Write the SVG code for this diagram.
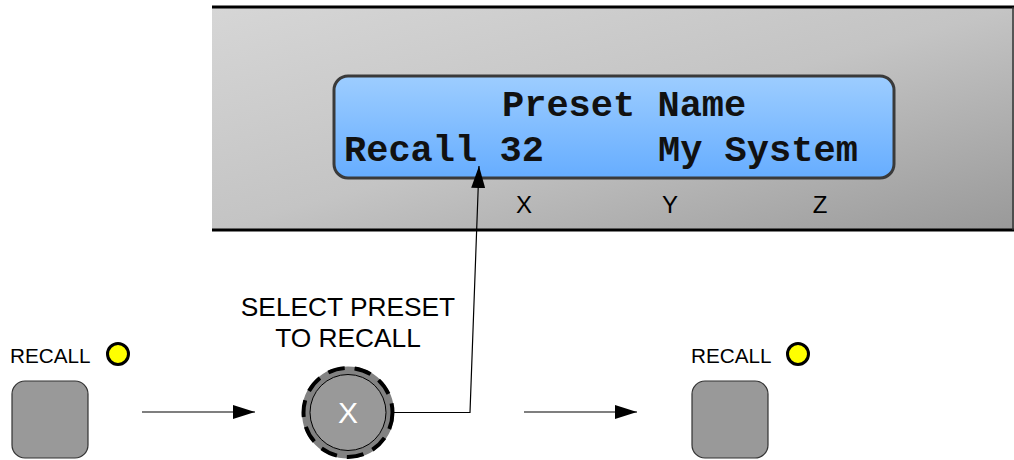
<svg xmlns="http://www.w3.org/2000/svg" width="1014" height="460" viewBox="0 0 1014 460">
<style>
.lcd{font-family:"Liberation Mono","DejaVu Sans Mono",monospace;font-weight:bold;font-size:37px;fill:#111}
.lbl{font-family:"Liberation Sans",Arial,sans-serif;fill:#000}
.btn{fill:#999;stroke:#333;stroke-width:1.2}
.led{fill:#ffff00;stroke:#000;stroke-width:3}
.conn{stroke:#000;stroke-width:1.2;fill:none}
</style>
<defs>
<linearGradient id="panelG" x1="0" y1="0" x2="1" y2="1">
<stop offset="0" stop-color="#d6d6d6"/>
<stop offset="0.5" stop-color="#c4c4c4"/>
<stop offset="1" stop-color="#999999"/>
</linearGradient>
<linearGradient id="lcdG" x1="0" y1="0" x2="0" y2="1">
<stop offset="0" stop-color="#9dcdff"/>
<stop offset="1" stop-color="#66adff"/>
</linearGradient>
<marker id="ah" viewBox="0 0 22 14" refX="22" refY="7" markerWidth="22" markerHeight="14" markerUnits="userSpaceOnUse" orient="auto">
<path d="M0,0 L22,7 L0,14 Z" fill="#000"/>
</marker>
</defs>
<rect width="1014" height="460" fill="#fff"/>
<g id="panel">
<rect x="212" y="7" width="802" height="223" fill="url(#panelG)"/>
<line x1="212" y1="7" x2="1014" y2="7" stroke="#000" stroke-width="3"/>
<line x1="212" y1="230" x2="1014" y2="230" stroke="#000" stroke-width="3"/>
<line x1="1013" y1="7" x2="1013" y2="230" stroke="#333" stroke-width="1.5"/>
</g>
<g id="lcd">
<rect x="334" y="76" width="560" height="102" rx="14" ry="14" fill="url(#lcdG)" stroke="#3a3a3a" stroke-width="3"/>
<text class="lcd" x="502" y="116">Preset Name</text>
<text class="lcd" x="344" y="161">Recall 32</text>
<text class="lcd" x="658" y="161">My System</text>
</g>
<g id="softkeys">
<text class="lbl" x="524" y="213" font-size="24" text-anchor="middle">X</text>
<text class="lbl" x="670" y="213" font-size="24" text-anchor="middle">Y</text>
<text class="lbl" x="820" y="213" font-size="24" text-anchor="middle">Z</text>
</g>
<g id="recall1">
<text class="lbl" x="10" y="363" font-size="20.7">RECALL</text>
<circle class="led" cx="118" cy="354" r="10.5"/>
<rect class="btn" x="12" y="381" width="76" height="77" rx="13" ry="13"/>
</g>
<g id="knob">
<text class="lbl" x="348" y="316" font-size="26.3" text-anchor="middle">SELECT PRESET</text>
<text class="lbl" x="348" y="347" font-size="26.3" text-anchor="middle">TO RECALL</text>
<circle cx="348" cy="412.5" r="42" fill="#999" stroke="#828282" stroke-width="8"/>
<circle cx="348" cy="412.5" r="44.5" fill="none" stroke="#000" stroke-width="4" stroke-dasharray="17 10"/>
<circle cx="348" cy="412.5" r="38" fill="none" stroke="#000" stroke-width="1"/>
<text x="348" y="423" font-family="Liberation Sans,Arial,sans-serif" font-size="30" fill="#fff" text-anchor="middle">X</text>
</g>
<g id="recall2">
<text class="lbl" x="691" y="363" font-size="20.7">RECALL</text>
<circle class="led" cx="798" cy="354" r="10.5"/>
<rect class="btn" x="692" y="381" width="76" height="77" rx="13" ry="13"/>
</g>
<g id="connectors">
<line class="conn" x1="142" y1="412" x2="255" y2="412" marker-end="url(#ah)"/>
<polyline class="conn" points="393,412.5 470,412.5 479,166" marker-end="url(#ah)"/>
<line class="conn" x1="524" y1="412" x2="637" y2="412" marker-end="url(#ah)"/>
</g>
</svg>
